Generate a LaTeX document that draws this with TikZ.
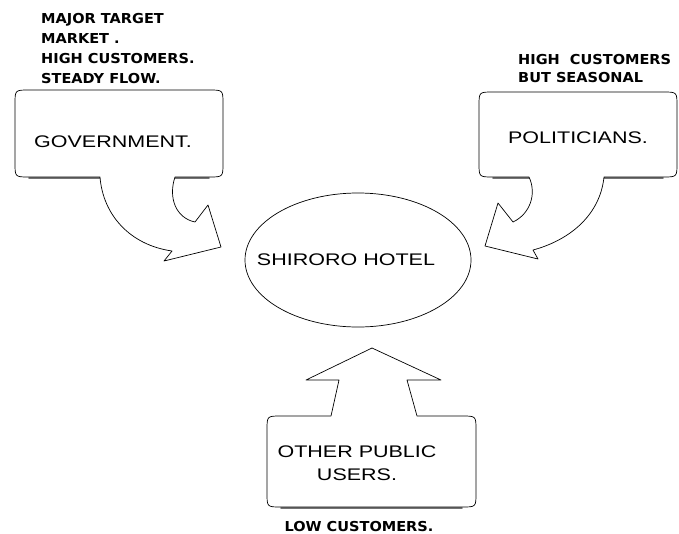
\documentclass[tikz,border=0pt]{standalone}
\usepackage{fontspec}
\usetikzlibrary{shapes.geometric}
\newfontfamily\notefont{DejaVu Sans}[FakeStretch=1.06]
\newfontfamily\labelfont{Liberation Sans}[FakeStretch=1.28]
\begin{document}
\begin{tikzpicture}[x=1pt, y=-1pt,
  bubble/.style={draw=black, line width=0.7pt, line join=round, fill=white},
  shade/.style={draw=black!55, line width=1.6pt, line cap=round},
  note/.style={anchor=base west, inner sep=0pt, font=\notefont\bfseries\fontsize{13.7}{16}\selectfont},
  notec/.style={anchor=base, inner sep=0pt, font=\notefont\bfseries\fontsize{13.7}{16}\selectfont},
  label/.style={anchor=base, inner sep=0pt, font=\labelfont\fontsize{16.8}{20}\selectfont},
  hotelshape/.style={draw=black, line width=0.7pt, ellipse, minimum width=226pt, minimum height=134pt, inner sep=0pt}
]
\useasboundingbox (0,0) rectangle (679,533);

% soft shadow under the lower edges of the bubbles
\draw[shade] (29,178) -- (100,178);
\draw[shade] (175,178) -- (209,178);
\draw[shade] (493,178) -- (529,178);
\draw[shade] (604,178) -- (663,178);
\draw[shade] (281,508) -- (462,508);

% Government bubble with its curved arrow
\draw[bubble] (175,177) -- (209,177) .. controls (223,177) .. (223,163)
  -- (223,104) .. controls (223,90) .. (209,90)
  -- (29,90) .. controls (15,90) .. (15,104)
  -- (15,163) .. controls (15,177) .. (29,177)
  -- (100,177) .. controls (103,215) and (130,245) .. (172,251)
  -- (164,261) -- (221,247) -- (208,205) -- (195,222)
  .. controls (176,218) and (168,198) .. (175,177) -- cycle;

% Politicians bubble with its curved arrow
\draw[bubble] (529,177) -- (493,177) .. controls (479,177) .. (479,163)
  -- (479,106) .. controls (479,92) .. (493,92)
  -- (663,92) .. controls (677,92) .. (677,106)
  -- (677,163) .. controls (677,177) .. (663,177)
  -- (604,177) .. controls (600,215) and (570,240) .. (533,250)
  -- (538,259) -- (485,246) -- (498,203) -- (513,222)
  .. controls (530,214) and (537,194) .. (529,177) -- cycle;

% Other public users bubble with its straight arrow
\draw[bubble] (331,416) -- (339,380) -- (306,380) -- (372,348)
  -- (441,380) -- (407,380) -- (417,416)
  -- (462,416) .. controls (476,416) .. (476,430)
  -- (476,493) .. controls (476,507) .. (462,507)
  -- (281,507) .. controls (267,507) .. (267,493)
  -- (267,430) .. controls (267,416) .. (281,416) -- cycle;

% the hotel
\node[hotelshape] (hotel) at (358,260) {};
\node[label] (hoteltext) at (346,265) {SHIRORO HOTEL};

% bubble labels
\node[label] (gov) at (113,147) {GOVERNMENT.};
\node[label] (pol) at (578,143) {POLITICIANS.};
\node[label] (oth1) at (357,457) {OTHER PUBLIC};
\node[label] (oth2) at (357,480) {USERS.};

% notes
\node[note] (gn1) at (41,23) {MAJOR TARGET};
\node[note] (gn2) at (41,43) {MARKET .};
\node[note] (gn3) at (41,63) {HIGH CUSTOMERS.};
\node[note] (gn4) at (41,83) {STEADY FLOW.};
\node[note] (pn1) at (518,64) {HIGH \ CUSTOMERS};
\node[note] (pn2) at (518,82) {BUT SEASONAL};
\node[notec] (on1) at (359,531) {LOW CUSTOMERS.};
\end{tikzpicture}
\end{document}
